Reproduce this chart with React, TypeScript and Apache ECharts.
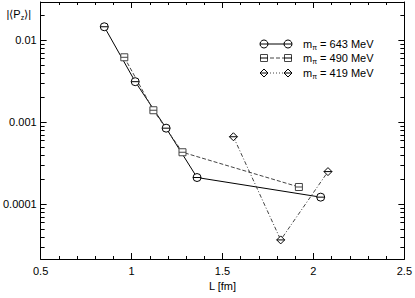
import React, { useEffect, useRef } from "react";
import * as echarts from "echarts";

// Data (L in fm, |<Pz>|)
const L643 = [0.85, 1.02, 1.19, 1.36, 2.04];
const P643 = [0.0145, 0.0031, 0.00084, 0.00021, 0.000121];
const L490 = [0.96, 1.12, 1.28, 1.92];
const P490 = [0.00615, 0.00139, 0.000427, 0.000161];
const L419 = [1.56, 1.82, 2.08];
const P419 = [0.00066, 0.0000364, 0.000248];

const seriesNames = ["m_π = 643 MeV", "m_π = 490 MeV", "m_π = 419 MeV"];
const massLabels = ["643", "490", "419"];

const xTickLabels = ["0.5", "1", "1.5", "2", "2.5"];
const yTickValues = [0.0001, 0.001, 0.01];
const yTickLabels = ["0.0001", "0.001", "0.01"];
const yMinorTicks = [
  3e-5, 4e-5, 5e-5, 6e-5, 7e-5, 8e-5, 9e-5,
  2e-4, 3e-4, 4e-4, 5e-4, 6e-4, 7e-4, 8e-4, 9e-4,
  2e-3, 3e-3, 4e-3, 5e-3, 6e-3, 7e-3, 8e-3, 9e-3,
  2e-2,
];

const X_MIN = 0.5;
const X_MAX = 2.5;
const Y_MIN = 2.13e-5;
const Y_MAX = 0.02906;

const FONT = "'Liberation Sans', Arial, Helvetica, sans-serif";

const SYM_CIRCLE = "path://M0,5A5,5,0,1,1,10,5A5,5,0,1,1,0,5ZM0,5L10,5";
const SYM_SQUARE = "path://M0,0L10,0L10,10L0,10ZM0,5L10,5";
const SYM_DIAMOND = "path://M5,0L10,5L5,10L0,5ZM0,5L10,5";

function zip(xs: number[], ys: number[]) {
  return xs.map((x, i) => [x, ys[i]]);
}

export default function App() {
  const ref = useRef<HTMLDivElement>(null);

  useEffect(() => {
    if (!ref.current) return;
    const chart = echarts.init(ref.current, null, { renderer: "svg" });

    const yLabelFmt = (v: number) => {
      for (let i = 0; i < yTickValues.length; i++) {
        if (Math.abs(Math.log10(v) - Math.log10(yTickValues[i])) < 1e-6) return yTickLabels[i];
      }
      return "";
    };
    const xLabelFmt = (v: number) => {
      const idx = Math.round((v - X_MIN) / 0.5);
      if (Math.abs(v - (X_MIN + idx * 0.5)) < 1e-6 && xTickLabels[idx] !== undefined) return xTickLabels[idx];
      return "";
    };

    const baseX = {
      type: "value",
      min: X_MIN,
      max: X_MAX,
      interval: 0.5,
      splitLine: { show: false },
      axisLine: { show: true, onZero: false, lineStyle: { color: "#000", width: 1 } },
      axisTick: { show: true, inside: true, length: 6, lineStyle: { color: "#000" } },
      minorTick: { show: true, splitNumber: 5, length: 3, lineStyle: { color: "#000" } },
    };
    const baseY = {
      type: "log",
      logBase: 10,
      min: Y_MIN,
      max: Y_MAX,
      splitLine: { show: false },
      axisLine: { show: true, onZero: false, lineStyle: { color: "#000", width: 1 } },
      axisTick: { show: true, inside: true, length: 6, lineStyle: { color: "#000" } },
    };

    const legendRows = [44, 58, 73];
    const lx1 = 264;
    const lx2 = 288;
    const graphics: any[] = [];
    // y axis title
    graphics.push({
      type: "text",
      x: 31,
      y: 14,
      style: {
        text: "{a||⟨P}{s|z}{a|⟩|}",
        align: "right",
        verticalAlign: "middle",
        rich: {
          a: { fontFamily: FONT, fontSize: 11, fill: "#000" },
          s: { fontFamily: FONT, fontSize: 7, fill: "#000", padding: [6, 0, 0, 0] },
        },
      },
    });
    const lineDash = [null, [4, 2], [1, 2]];
    const lineColors = ["#000", "#444", "#444"];
    legendRows.forEach((yy, i) => {
      graphics.push({
        type: "line",
        shape: { x1: lx1, y1: yy, x2: lx2, y2: yy },
        style: { stroke: lineColors[i], lineWidth: 1, lineDash: lineDash[i] || undefined },
      });
      [lx1, lx2].forEach((cx) => {
        if (i === 0) {
          graphics.push({ type: "circle", shape: { cx, cy: yy, r: 4 }, style: { fill: "#fff", stroke: "#000", lineWidth: 1 } });
        } else if (i === 1) {
          graphics.push({ type: "rect", shape: { x: cx - 3.5, y: yy - 3.5, width: 7, height: 7 }, style: { fill: "#fff", stroke: "#444", lineWidth: 1 } });
        } else {
          graphics.push({ type: "polygon", shape: { points: [[cx, yy - 4], [cx + 4, yy], [cx, yy + 4], [cx - 4, yy]] }, style: { fill: "#fff", stroke: "#000", lineWidth: 1 } });
        }
        graphics.push({ type: "line", shape: { x1: cx - 4, y1: yy, x2: cx + 4, y2: yy }, style: { stroke: "#000", lineWidth: 1 } });
      });
      graphics.push({
        type: "text",
        x: 303,
        y: yy,
        style: {
          text: `{a|m}{s|π}{a| = ${massLabels[i]} MeV}`,
          verticalAlign: "middle",
          rich: {
            a: { fontFamily: FONT, fontSize: 11, fill: "#000" },
            s: { fontFamily: FONT, fontSize: 7, fill: "#000", padding: [6, 0, 0, 0] },
          },
        },
      });
    });

    const minorTickSeries = {
      type: "custom",
      coordinateSystem: "cartesian2d",
      xAxisIndex: 0,
      yAxisIndex: 0,
      silent: true,
      clip: false,
      z: 10,
      data: yMinorTicks.map((v) => [X_MIN, v]),
      renderItem: (params: any, api: any) => {
        const v = api.value(1);
        const pl = api.coord([X_MIN, v]);
        const pr = api.coord([X_MAX, v]);
        const y = Math.round(pl[1]) + 0.5;
        return {
          type: "group",
          children: [
            { type: "line", shape: { x1: pl[0], y1: y, x2: pl[0] + 4, y2: y }, style: { stroke: "#000", lineWidth: 1 } },
            { type: "line", shape: { x1: pr[0] - 4, y1: y, x2: pr[0], y2: y }, style: { stroke: "#000", lineWidth: 1 } },
          ],
        };
      },
    };

    chart.setOption({
      animation: false,
      backgroundColor: "#fff",
      textStyle: { fontFamily: FONT, color: "#000" },
      grid: { left: 35, right: 8.5, top: 2, bottom: 39, containLabel: false },
      xAxis: [
        {
          ...baseX,
          position: "bottom",
          name: "L [fm]",
          nameLocation: "middle",
          nameGap: 16,
          nameTextStyle: { fontFamily: FONT, fontSize: 11, color: "#000" },
          axisLabel: { show: true, margin: 6, fontFamily: FONT, fontSize: 11, color: "#000", formatter: xLabelFmt },
        },
        { ...baseX, position: "top", axisLabel: { show: false } },
      ],
      yAxis: [
        {
          ...baseY,
          position: "left",
          axisLabel: { show: true, margin: 4, fontFamily: FONT, fontSize: 11, color: "#000", formatter: yLabelFmt },
        },
        { ...baseY, position: "right", axisLabel: { show: false } },
      ],
      series: [
        {
          name: seriesNames[0],
          type: "line",
          data: zip(L643, P643),
          symbol: SYM_CIRCLE,
          symbolSize: 8,
          symbolKeepAspect: true,
          showAllSymbol: true,
          lineStyle: { color: "#000", width: 1, type: "solid" },
          itemStyle: { color: "#fff", borderColor: "#000", borderWidth: 1 },
          z: 3,
        },
        {
          name: seriesNames[1],
          type: "line",
          data: zip(L490, P490),
          symbol: SYM_SQUARE,
          symbolSize: 7,
          symbolKeepAspect: true,
          lineStyle: { color: "#444", width: 1, type: [4, 2] },
          itemStyle: { color: "#fff", borderColor: "#444", borderWidth: 1 },
          z: 3,
        },
        {
          name: seriesNames[2],
          type: "line",
          data: zip(L419, P419),
          symbol: SYM_DIAMOND,
          symbolSize: 8,
          symbolKeepAspect: true,
          lineStyle: { color: "#444", width: 1, type: [4, 2, 1, 2] },
          itemStyle: { color: "#fff", borderColor: "#000", borderWidth: 1 },
          z: 3,
        },
        minorTickSeries,
      ],
      graphic: graphics,
    });

    return () => chart.dispose();
  }, []);

  return <div ref={ref} style={{ position: "fixed", left: 0, top: 0, width: 415, height: 298 }} />;
}
